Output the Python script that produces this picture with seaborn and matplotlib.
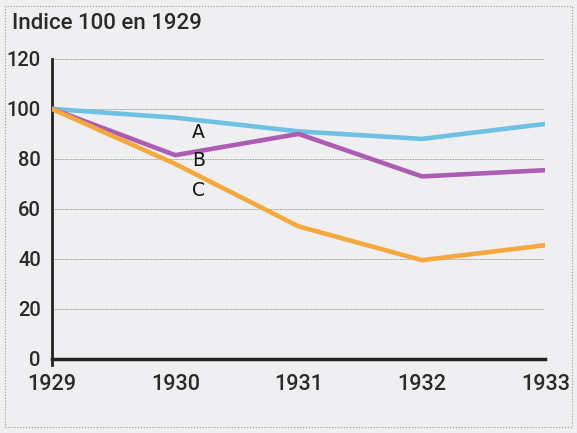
import numpy as np
import pandas as pd
import matplotlib
matplotlib.use('Agg')
import matplotlib.pyplot as plt
import seaborn as sns
from matplotlib.patches import Rectangle

# données (indice 100 en 1929)
annees = [1929, 1930, 1931, 1932, 1933]
serie_a = [100, 96.5, 91, 88, 94]
serie_b = [100, 81.5, 90, 73, 75.5]
serie_c = [100, 78, 53, 39.5, 45.5]
noms = ['A', 'B', 'C']
couleurs = ['#6ec1e4', '#ad5cb3', '#f4a83e']

df = pd.DataFrame({'annee': annees * 3,
                   'indice': serie_a + serie_b + serie_c,
                   'serie': [n for n in noms for _ in annees]})

sns.set_style('white')
plt.rcParams['font.family'] = ['Roboto', 'DejaVu Sans']

fig = plt.figure(figsize=(5.77, 4.33), dpi=100)
fig.patch.set_facecolor('#efeff1')
ax = fig.add_axes([0.09, 0.171, 0.855, 0.693])
ax.set_facecolor('#efeff1')

sns.lineplot(data=df, x='annee', y='indice', hue='serie', palette=couleurs,
             linewidth=3.3, legend=False, ax=ax, zorder=3)

ax.set_xlim(1929, 1933)
ax.set_ylim(0, 120)
ax.set_xticks(annees)
ax.set_yticks(np.arange(0, 121, 20))
ax.set_xlabel('')
ax.set_ylabel('')
ax.grid(axis='y', linestyle=(0, (2, 1)), color='#9a9a9a', linewidth=0.6)
ax.grid(axis='x', visible=False)

for s in ['top', 'right']:
    ax.spines[s].set_visible(False)
ax.spines['left'].set_linewidth(2)
ax.spines['left'].set_color('#222222')
ax.spines['left'].set_bounds(-2.5, 120)
ax.spines['bottom'].set_linewidth(2.5)
ax.spines['bottom'].set_color('#222222')
ax.tick_params(axis='x', direction='out', length=9, width=2, color='#222222', pad=2)
ax.tick_params(axis='y', length=0, pad=8)
for lab in ax.get_xticklabels():
    lab.set_fontsize(15.5)
    lab.set_fontweight('medium')
    lab.set_color('#2a2a2a')
for lab in ax.get_yticklabels():
    lab.set_fontsize(14.5)
    lab.set_fontweight('medium')
    lab.set_color('#2a2a2a')

# étiquettes des courbes
for nom, y in zip(noms, [90.5, 79.5, 67.5]):
    ax.text(1930.19, y, nom, fontsize=13.5, color='#111111', ha='center', va='center',
            family=['DejaVu Sans'])

fig.text(0.02, 0.945, 'Indice 100 en 1929', fontsize=16, fontweight='medium',
         color='#2a2a2a', ha='left', va='center')

fig.patches.append(Rectangle((0.008, 0.015), 0.984, 0.97, transform=fig.transFigure,
                             fill=False, linestyle=':', edgecolor='#999999', linewidth=0.8))

fig.savefig('out.png', dpi=100, facecolor=fig.get_facecolor())
